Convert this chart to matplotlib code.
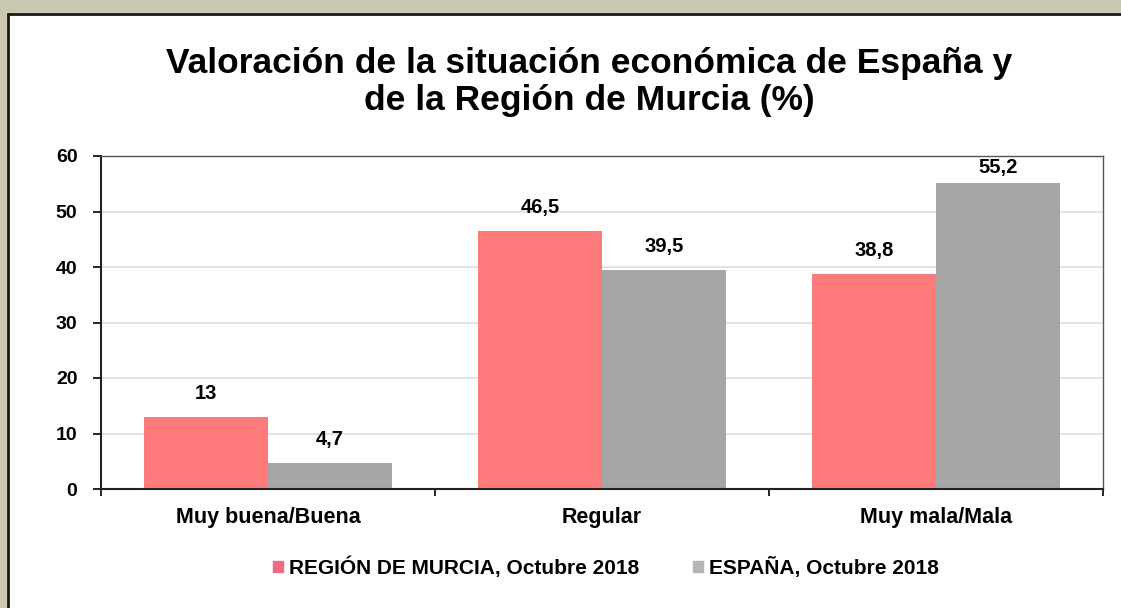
import matplotlib.pyplot as plt
from matplotlib.patches import Rectangle
import numpy as np

plt.rcParams['font.family'] = ['Liberation Sans', 'DejaVu Sans']

categories = ['Muy buena/Buena', 'Regular', 'Muy mala/Mala']
murcia = [13, 46.5, 38.8]
espana = [4.7, 39.5, 55.2]
labels_series = ['REGIÓN DE MURCIA, Octubre 2018', 'ESPAÑA, Octubre 2018']

W, H = 1121, 608
fig = plt.figure(figsize=(W / 100, H / 100), dpi=100)
fig.patch.set_facecolor('#cbc8b1')

# white panel with dark border on top/left
fig.add_artist(Rectangle((8 / W, -0.1), 1.2, (H - 14) / H + 0.1, zorder=-5,
                         transform=fig.transFigure, fc='white', ec='#1a1a1a', lw=2))

ax = fig.add_axes([101 / W, 1 - 489 / H, (1103 - 101) / W, (489 - 156) / H])
ax.set_facecolor('white')

x = np.arange(len(categories))
bw = 0.371
b1 = ax.bar(x - bw / 2, murcia, bw, color='#ff7b7b', label=labels_series[0])
b2 = ax.bar(x + bw / 2, espana, bw, color='#a6a6a6', label=labels_series[1])

def fmt(v):
    s = f'{v:g}'
    return s.replace('.', ',')

for bars, vals in [(b1, murcia), (b2, espana)]:
    for rect, v in zip(bars, vals):
        # labels near the top of the axes are pushed down a bit, like Excel does
        off = 10 if v < 52 else 4
        ax.annotate(fmt(v), (rect.get_x() + rect.get_width() / 2, v),
                    xytext=(0, off), textcoords='offset points',
                    ha='center', va='bottom', fontsize=14.5, fontweight='bold')

ax.set_xlim(-0.5, 2.5)
ax.set_ylim(0, 60)
ax.set_yticks(range(0, 61, 10))
ax.tick_params(axis='y', labelsize=14, length=6, width=1.2, direction='out', pad=11)
for lbl in ax.get_yticklabels():
    lbl.set_fontweight('bold')
ax.yaxis.grid(True, color='#dedede', lw=1.2)
ax.set_axisbelow(True)

# category boundary ticks, labels centered
ax.set_xticks([-0.5, 0.5, 1.5, 2.5])
ax.set_xticklabels([])
ax.tick_params(axis='x', which='major', length=5, width=1.2, direction='out')
ax.set_xticks(x, minor=True)
ax.set_xticklabels(categories, minor=True, fontsize=15.5, fontweight='bold')
ax.tick_params(axis='x', which='minor', length=0, pad=13)

for s in ['left', 'bottom']:
    ax.spines[s].set_color('#222222')
    ax.spines[s].set_linewidth(1.5)
for s in ['top', 'right']:
    ax.spines[s].set_color('#555555')
    ax.spines[s].set_linewidth(1.0)

fig.text(589 / W, 1 - 82 / H, 'Valoración de la situación económica de España y\nde la Región de Murcia (%)',
         ha='center', va='center', fontsize=25.5, fontweight='bold', linespacing=1.15)

leg = fig.legend(handles=[b1, b2], labels=labels_series, loc='center',
                 bbox_to_anchor=(606 / W, 1 - 567 / H), ncol=2, frameon=False,
                 fontsize=15, handlelength=0.45, handleheight=0.45, handletextpad=0.3,
                 columnspacing=2.6)
leg.legend_handles[0].set_color('#f06a86')
leg.legend_handles[1].set_color('#b5b5b5')
for t in leg.get_texts():
    t.set_fontweight('bold')

fig.savefig('out.png', dpi=100, facecolor=fig.get_facecolor())
